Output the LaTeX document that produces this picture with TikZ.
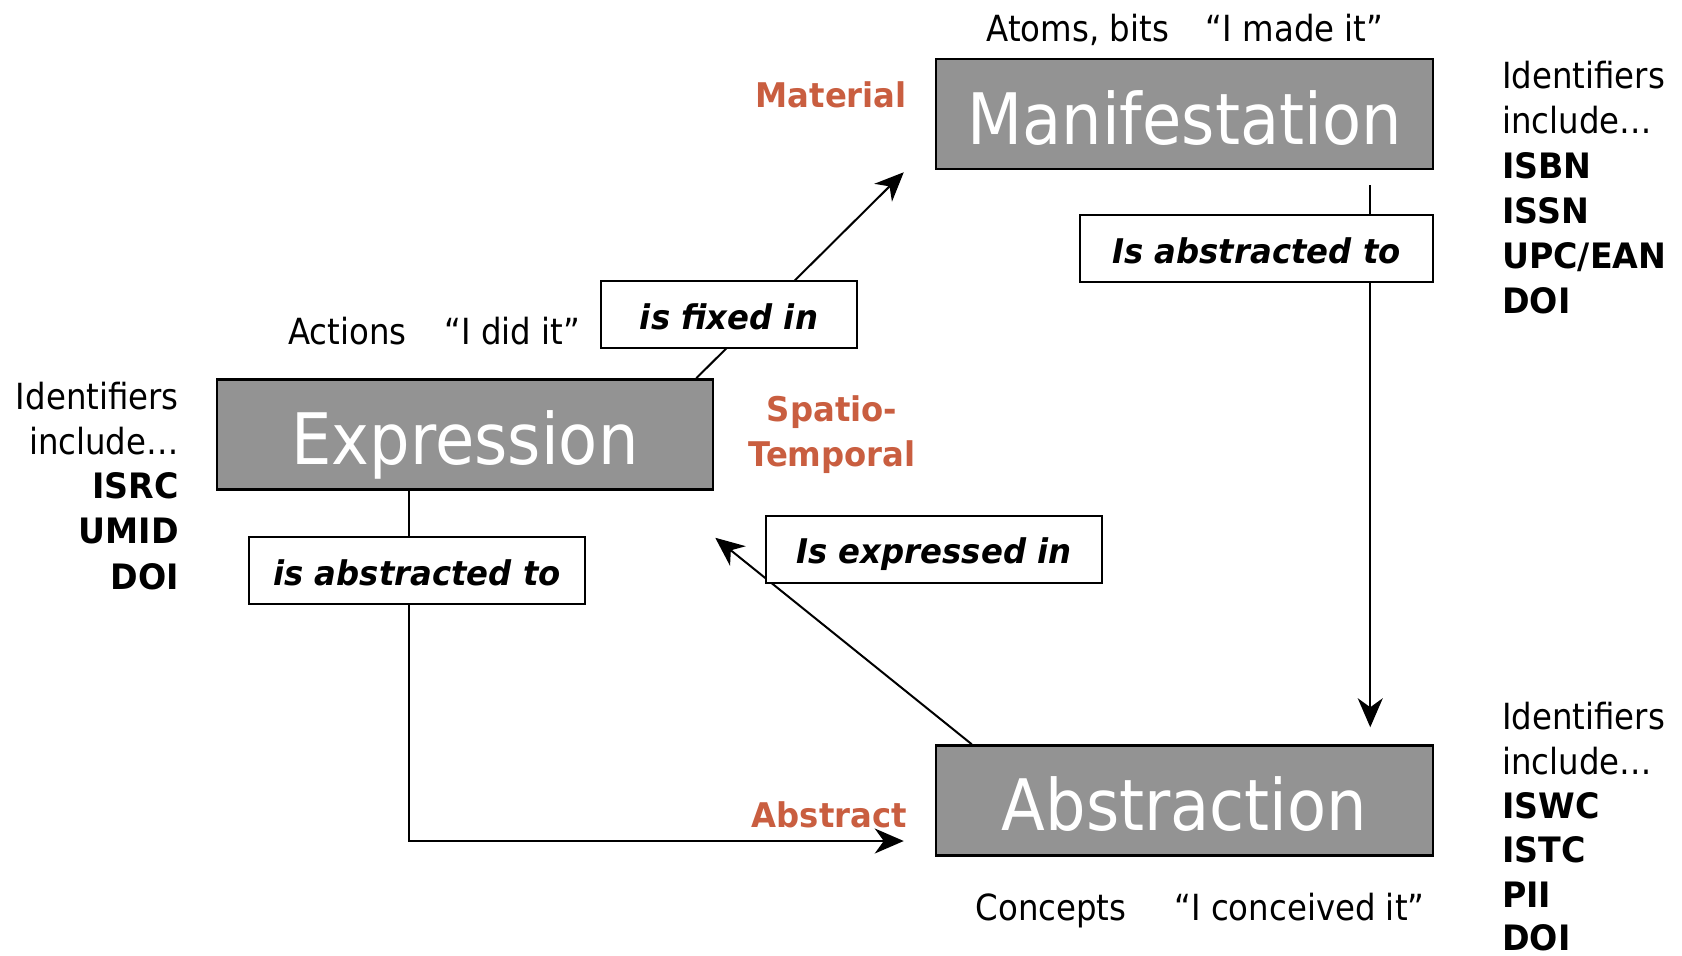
\documentclass[tikz,border=0pt]{standalone}
\usepackage{fontspec}
\usetikzlibrary{arrows.meta,calc}
\newfontfamily\rfont{DejaVu Sans}[FakeStretch=0.9]
\newfontfamily\bfont{DejaVu Sans Bold}[FakeStretch=0.95]
\newfontfamily\bifont{DejaVu Sans Bold Oblique}[FakeStretch=0.95]
\definecolor{boxgray}{RGB}{147,147,147}
\definecolor{accent}{RGB}{201,94,64}
\tikzset{
 entity/.style={draw=black, line width=2.5pt, fill=boxgray, minimum width=497pt, minimum height=110pt, inner sep=0pt, text=white, font=\rfont\fontsize{71}{80}\selectfont, text height=60pt, text depth=0pt},
 rel/.style={draw=black, line width=2pt, fill=white, minimum height=67pt, inner sep=0pt, font=\bifont\fontsize{34}{40}\selectfont, text height=29pt, text depth=0pt},
 note/.style={inner sep=0pt, font=\rfont\fontsize{36}{43}\selectfont},
 idb/.style={inner sep=0pt, font=\bfont\fontsize{35}{42}\selectfont},
 realm/.style={inner sep=0pt, text=accent, font=\bfont\fontsize{34}{40}\selectfont},
 conn/.style={line width=2pt, -{Stealth[length=29pt,width=25pt,inset=9pt]}},
}
\begin{document}
\begin{tikzpicture}[x=1pt,y=-1pt]
\fill[white] (0,0) rectangle (1682,956);
\useasboundingbox (0,0) rectangle (1682,956);

% entities
\node[entity] (man) at (1184.5,114) {Manifestation};
\node[entity, minimum width=496pt] (expr) at (465,434.5) {Expression};
\node[entity] (abs) at (1184.5,800.5) {Abstraction};

% connectors
\draw[conn] ([xshift=-18pt]expr.north east) -- ([xshift=-31pt,yshift=-2pt]man.south west);
\draw[conn] ([xshift=-64pt,yshift=-15pt]man.south east) -- ([xshift=-64pt,yshift=17pt]abs.north east);
\draw[conn] ([xshift=-56pt]expr.south) |- ([xshift=-31pt,yshift=-40.5pt]abs.west);
\draw[conn] ([xshift=37pt]abs.north west) -- ([xshift=1pt,yshift=-47pt]expr.south east);

% relation labels
\node[rel, minimum width=256pt] (lfix) at (729,314.5) {is fixed in};
\node[rel, minimum width=353pt] (labsR) at (1256.5,248.5) {Is abstracted to};
\node[rel, minimum width=336pt] (labsL) at (417,570.5) {is abstracted to};
\node[rel, minimum width=336pt] (lexp) at (934,549) {Is expressed in};

% notes
\node[note, anchor=base] (atoms) at (1185,41) {Atoms, bits\hspace{37pt}“I made it”};
\node[note, anchor=base] (actions) at (434,344) {Actions\hspace{38pt}“I did it”};
\node[note, anchor=base] (concepts) at (1200,920) {Concepts\hspace{48pt}“I conceived it”};

\node[realm, anchor=base east] (material) at (907,107) {Material};
\node[realm, anchor=base] (spatio) at (832,421) {Spatio-};
\node[realm, anchor=base] (temporal) at (832,466) {Temporal};
\node[realm, anchor=base east] (abstract) at (907,827) {Abstract};

% identifiers: manifestation
\node[note, anchor=base west] (mi1) at (1502,88) {Identifiers};
\node[note, anchor=base west] (mi2) at (1502,133) {include…};
\node[idb, anchor=base west] (mi3) at (1502,178) {ISBN};
\node[idb, anchor=base west] (mi4) at (1502,223) {ISSN};
\node[idb, anchor=base west] (mi5) at (1502,268) {UPC/EAN};
\node[idb, anchor=base west] (mi6) at (1502,313) {DOI};

% identifiers: abstraction
\node[note, anchor=base west] (ai1) at (1502,729) {Identifiers};
\node[note, anchor=base west] (ai2) at (1502,774) {include…};
\node[idb, anchor=base west] (ai3) at (1502,818) {ISWC};
\node[idb, anchor=base west] (ai4) at (1502,862.5) {ISTC};
\node[idb, anchor=base west] (ai5) at (1502,907) {PII};
\node[idb, anchor=base west] (ai6) at (1502,950) {DOI};

% identifiers: expression
\node[note, anchor=base east] (ei1) at (179,409) {Identifiers};
\node[note, anchor=base east] (ei2) at (179,454) {include…};
\node[idb, anchor=base east] (ei3) at (179,498) {ISRC};
\node[idb, anchor=base east] (ei4) at (179,543) {UMID};
\node[idb, anchor=base east] (ei5) at (179,589) {DOI};
\end{tikzpicture}
\end{document}
